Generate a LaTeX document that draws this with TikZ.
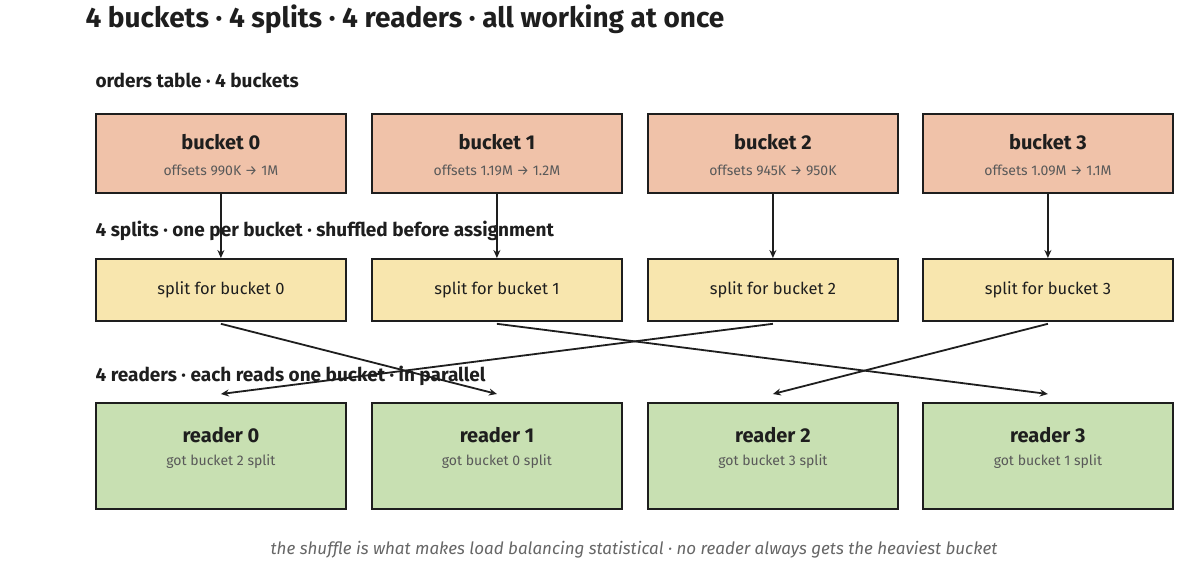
\documentclass[tikz,border=0pt]{standalone}
\usepackage{fontspec}
\setmainfont{Fira Sans}
\usetikzlibrary{arrows.meta}
\definecolor{bk}{HTML}{F0C2A9}
\definecolor{sp}{HTML}{F8E6AE}
\definecolor{rd}{HTML}{C8E0B2}
\definecolor{ink}{HTML}{1E1E1E}
\tikzset{
 box/.style={draw=ink,line width=1.8pt,anchor=north west,inner sep=0pt},
 lbl/.style={anchor=west,font=\bfseries\fontsize{19}{22}\selectfont,text=ink},
 arr/.style={draw=ink,line width=1.8pt,-{Stealth[length=8pt,width=7pt]}},
 ttl/.style={font=\bfseries\fontsize{20}{23}\selectfont,text=ink},
 sub/.style={font=\fontsize{14}{16}\selectfont,text=black!65},
}
\begin{document}
\begin{tikzpicture}[x=1pt,y=-1pt]
\useasboundingbox[fill=white] (0,0) rectangle (1185,581);
\node[anchor=west,font=\bfseries\fontsize{28}{32}\selectfont,text=ink] (title) at (82,19) {4 buckets · 4 splits · 4 readers · all working at once};
\node[lbl] (l1) at (92,80) {orders table · 4 buckets};
\node[lbl] (l2) at (92,231) {4 splits · one per bucket · shuffled before assignment};
\node[lbl] (l3) at (92,376) {4 readers · each reads one bucket · in parallel};
\foreach \i/\x/\o in {0/95/990K → 1M,1/371/1.19M → 1.2M,2/647/945K → 950K,3/922/1.09M → 1.1M}{
 \node[box,fill=bk,minimum width=250pt,minimum height=79pt] (b\i) at (\x,113) {};
 \node[ttl] at ([yshift=-29pt]b\i.north) {bucket \i};
 \node[sub] at ([yshift=-57pt]b\i.north) {offsets \o};
 \node[box,fill=sp,minimum width=250pt,minimum height=62pt] (s\i) at (\x,258) {};
 \node[font=\fontsize{16.5}{19}\selectfont,text=ink] at (s\i.center) {split for bucket \i};
 \node[box,fill=rd,minimum width=250pt,minimum height=106pt] (r\i) at (\x,402) {};
 \draw[arr] (b\i.south) -- (s\i.north);
}
\foreach \i/\g in {0/2,1/0,2/3,3/1}{
 \node[ttl] at ([yshift=-33pt]r\i.north) {reader \i};
 \node[sub] at ([yshift=-60pt]r\i.north) {got bucket \g\ split};
}
\draw[arr] ([yshift=-2pt]s0.south) -- ([yshift=8pt]r1.north);
\draw[arr] ([yshift=-2pt]s1.south) -- ([yshift=8pt]r3.north);
\draw[arr] ([yshift=-2pt]s2.south) -- ([yshift=8pt]r0.north);
\draw[arr] ([yshift=-2pt]s3.south) -- ([yshift=8pt]r2.north);
\node[font=\itshape\fontsize{17}{20}\selectfont,text=black!60] (foot) at (634,550) {the shuffle is what makes load balancing statistical · no reader always gets the heaviest bucket};
\end{tikzpicture}
\end{document}
